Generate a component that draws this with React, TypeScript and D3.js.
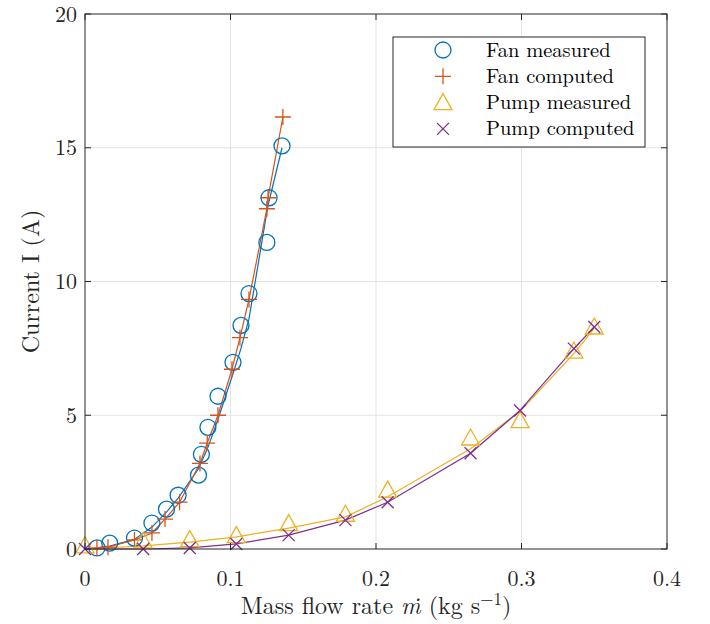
import React from "react";
import * as d3 from "d3";

const fanMeasuredX = [0.0082, 0.017, 0.034, 0.046, 0.056, 0.064, 0.078, 0.080, 0.0845, 0.0914, 0.1017, 0.1072, 0.1127, 0.125, 0.1265, 0.1354];
const fanMeasuredY = [0.04, 0.22, 0.41, 0.97, 1.49, 2.01, 2.76, 3.54, 4.55, 5.71, 6.98, 8.36, 9.55, 11.46, 13.13, 15.07];
const fanMeasuredFitY = [0.04, 0.11, 0.36, 0.82, 1.38, 1.9, 3.0, 3.25, 3.8, 4.85, 6.55, 7.5, 8.6, 12.6, 13.0, 15.0];

const fanComputedX = [0.0082, 0.0158, 0.034, 0.046, 0.055, 0.065, 0.079, 0.084, 0.0914, 0.101, 0.1065, 0.1127, 0.125, 0.1258, 0.136];
const fanComputedY = [0.04, 0.07, 0.34, 0.6, 1.12, 1.75, 3.2, 3.96, 5.0, 6.72, 7.9, 9.33, 12.72, 13.13, 16.15];

const pumpX = [0, 0.040, 0.072, 0.104, 0.140, 0.179, 0.208, 0.265, 0.299, 0.336, 0.350];
const pumpMeasuredY = [0.12, 0.3, 0.35, 0.5, 0.95, 1.3, 2.2, 4.15, 4.8, 7.4, 8.3];
const pumpMeasuredFitY = [0.0, 0.12, 0.26, 0.45, 0.78, 1.2, 1.95, 3.75, 5.15, 7.3, 8.25];
const pumpComputedY = [0.0, 0.0, 0.04, 0.19, 0.52, 1.08, 1.75, 3.58, 5.18, 7.49, 8.3];

const xTicks = [0, 0.1, 0.2, 0.3, 0.4];
const yTicks = [0, 5, 10, 15, 20];
const legendLabels = ["Fan measured", "Fan computed", "Pump measured", "Pump computed"];

const C_BLUE = "#0072BD";
const C_ORANGE = "#D95319";
const C_YELLOW = "#EDB120";
const C_PURPLE = "#7E2F8E";
const FONT = '"Latin Modern Roman", "Liberation Serif", serif';
const AX = "#262626";

const L = 85, R = 667, T = 14, B = 549;

function Marker({ kind, x, y, color }: { kind: string; x: number; y: number; color: string }) {
  const sw = 1.3;
  if (kind === "o") return <circle cx={x} cy={y} r={8} fill="none" stroke={color} strokeWidth={sw} />;
  if (kind === "+") return <path d={`M${x - 8},${y}H${x + 8}M${x},${y - 8}V${y + 8}`} stroke={color} strokeWidth={sw} fill="none" />;
  if (kind === "^") return <path d={`M${x},${y - 9}L${x + 9},${y + 7}L${x - 9},${y + 7}Z`} stroke={color} strokeWidth={sw} fill="none" />;
  return <path d={`M${x - 6},${y - 6}L${x + 6},${y + 6}M${x - 6},${y + 6}L${x + 6},${y - 6}`} stroke={color} strokeWidth={sw} fill="none" />;
}

export default function App() {
  const x = d3.scaleLinear().domain([0, 0.4]).range([L, R]);
  const y = d3.scaleLinear().domain([0, 20]).range([B, T]);
  const line = d3.line<[number, number]>().x((d) => x(d[0])).y((d) => y(d[1]));
  const zip = (xs: number[], ys: number[]) => xs.map((v, i) => [v, ys[i]] as [number, number]);

  const series = [
    { kind: "o", color: C_BLUE, pts: zip(fanMeasuredX, fanMeasuredY), ln: zip(fanMeasuredX, fanMeasuredFitY) },
    { kind: "+", color: C_ORANGE, pts: zip(fanComputedX, fanComputedY), ln: zip(fanComputedX, fanComputedY) },
    { kind: "^", color: C_YELLOW, pts: zip(pumpX, pumpMeasuredY), ln: zip(pumpX, pumpMeasuredFitY) },
    { kind: "x", color: C_PURPLE, pts: zip(pumpX, pumpComputedY), ln: zip(pumpX, pumpComputedY) },
  ];

  const tf = { fontFamily: FONT };

  return (
    <svg width={710} height={624} style={{ position: "absolute", left: 0, top: 0, background: "#fff", fontFamily: FONT }}>
      <rect x={0} y={0} width={710} height={624} fill="#fff" />
      {xTicks.slice(1, -1).map((t) => (
        <line key={"gx" + t} x1={x(t)} x2={x(t)} y1={T} y2={B} stroke="#e3e3e3" strokeWidth={1} />
      ))}
      {yTicks.slice(1, -1).map((t) => (
        <line key={"gy" + t} x1={L} x2={R} y1={y(t)} y2={y(t)} stroke="#e3e3e3" strokeWidth={1} />
      ))}
      {series.map((s, i) => (
        <path key={"l" + i} d={line(s.ln) || ""} fill="none" stroke={s.color} strokeWidth={1.2} />
      ))}
      {series.map((s, i) => (
        <g key={"m" + i}>
          {s.pts.map((p, j) => (
            <Marker key={j} kind={s.kind} x={x(p[0])} y={y(p[1])} color={s.color} />
          ))}
        </g>
      ))}
      <rect x={L} y={T} width={R - L} height={B - T} fill="none" stroke={AX} strokeWidth={1} />
      {xTicks.map((t) => (
        <g key={"tx" + t}>
          <line x1={x(t)} x2={x(t)} y1={B} y2={B - 6} stroke={AX} />
          <line x1={x(t)} x2={x(t)} y1={T} y2={T + 6} stroke={AX} />
          <text x={x(t)} y={B + 37} textAnchor="middle" fontSize={22} fill={AX} style={tf}>
            {t === 0 ? "0" : String(t)}
          </text>
        </g>
      ))}
      {yTicks.map((t) => (
        <g key={"ty" + t}>
          <line x1={L} x2={L + 6} y1={y(t)} y2={y(t)} stroke={AX} />
          <line x1={R} x2={R - 6} y1={y(t)} y2={y(t)} stroke={AX} />
          <text x={L - 8} y={y(t) + 7.5} textAnchor="end" fontSize={22} fill={AX} style={tf}>
            {t}
          </text>
        </g>
      ))}
      <text x={376} y={614} textAnchor="middle" fontSize={24} fill={AX} style={tf}>
        Mass flow rate <tspan fontStyle="italic">ṁ</tspan> (kg s<tspan dy={-9} fontSize={17}>−1</tspan><tspan dy={9}>)</tspan>
      </text>
      <text transform={`translate(39,${(T + B) / 2}) rotate(-90)`} textAnchor="middle" fontSize={24} fill={AX} style={tf}>
        Current I (A)
      </text>
      <rect x={393} y={37} width={252} height={110} fill="#fff" stroke={AX} strokeWidth={1} />
      {series.map((s, i) => (
        <g key={"lg" + i}>
          <Marker kind={s.kind} x={443} y={50 + i * 26.3} color={s.color} />
          <text x={486} y={50 + i * 26.3 + 6.5} fontSize={20.5} fill="#000" style={tf}>
            {legendLabels[i]}
          </text>
        </g>
      ))}
    </svg>
  );
}
